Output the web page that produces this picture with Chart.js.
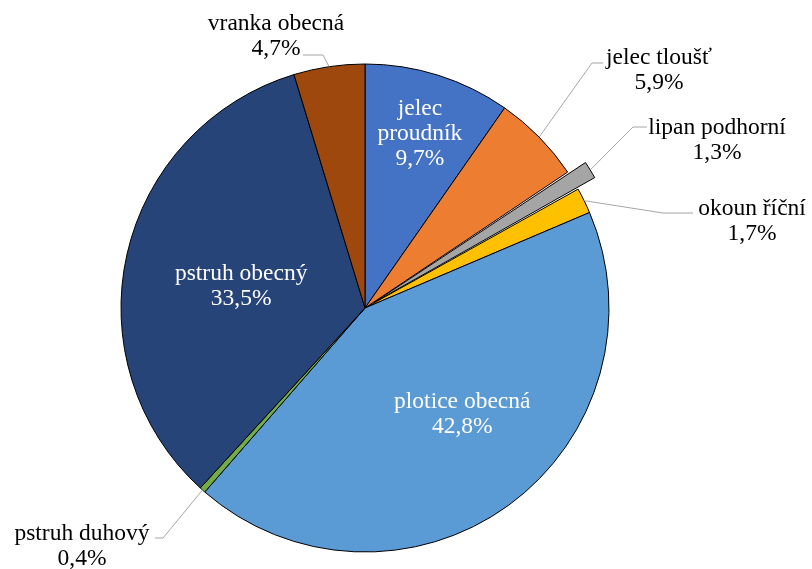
<!DOCTYPE html>
<html>
<head>
<meta charset="utf-8">
<script src="https://cdn.jsdelivr.net/npm/chart.js@4/dist/chart.umd.min.js"></script>
<style>
  html, body { margin: 0; padding: 0; background: #fff; }
  #wrap { width: 812px; height: 569px; position: relative; }
</style>
</head>
<body>
<div id="wrap"><canvas id="pieChart"></canvas></div>
<script>
// Data
const categories = ['jelec proudník', 'jelec tloušť', 'lipan podhorní', 'okoun říční',
    'plotice obecná', 'pstruh duhový', 'pstruh obecný', 'vranka obecná'];
const percents = [9.7, 5.9, 1.3, 1.7, 42.8, 0.4, 33.5, 4.7];
const colors = ['#4472C4', '#ED7D31', '#A5A5A5', '#FFC000', '#5B9BD5', '#70AD47', '#264478', '#9E480E'];
const explode = [0, 0, 42, 0, 0, 0, 0, 0];

// jak se popisky lámou na řádky
const labelLines = [['jelec', 'proudník'], ['jelec tloušť'], ['lipan podhorní'], ['okoun říční'],
    ['plotice obecná'], ['pstruh duhový'], ['pstruh obecný'], ['vranka obecná']];

// umístění popisků: uvnitř (poloměr, natočení) nebo venku s vodící čarou
const labelLayout = [
    { inside: true, r: 0.75, da: 0 },
    { tx: 659, ty: 58, path: [[592, 63], [603, 63]] },
    { tx: 717, ty: 128, path: [[633, 127], [647, 127]] },
    { tx: 752, ty: 209, path: [[663, 213], [693, 213]] },
    { inside: true, r: 0.59, da: -6.5 },
    { tx: 82, ty: 534, path: [[163, 538], [155, 538]] },
    { inside: true, r: 0.515, da: -3 },
    { tx: 276, ty: 24, path: [[323, 55], [303, 55]] }
];

const fmt = v => v.toFixed(1).replace('.', ',') + '%';
const lineH = 25;
const labelFont = '23.5px "Liberation Serif", "Times New Roman", serif';

const labelPlugin = {
    id: 'sliceLabels',
    afterDatasetsDraw(chart) {
        const ctx = chart.ctx;
        const arcs = chart.getDatasetMeta(0).data;
        ctx.save();
        ctx.font = labelFont;
        ctx.textAlign = 'center';
        ctx.textBaseline = 'middle';
        arcs.forEach((arc, i) => {
            const p = arc.getProps(['x', 'y', 'startAngle', 'endAngle', 'outerRadius', 'circumference'], true);
            const mid = (p.startAngle + p.endAngle) / 2;
            const lines = labelLines[i].concat(fmt(percents[i]));
            const lay = labelLayout[i];
            if (lay.inside) {
                const a = mid + lay.da * Math.PI / 180;
                const r = p.outerRadius * lay.r;
                const tx = p.x + Math.cos(a) * r;
                const ty = p.y + Math.sin(a) * r;
                ctx.fillStyle = '#fff';
                lines.forEach((t, k) => ctx.fillText(t, tx, ty + (k - (lines.length - 1) / 2) * lineH));
            } else {
                // posun vysunuté výseče (stejně jako ArcElement)
                const off = explode[i] / 4;
                const fix = 1 - Math.sin(Math.min(Math.PI, p.circumference));
                const rr = p.outerRadius + off * fix + off;
                const ex = p.x + Math.cos(mid) * rr;
                const ey = p.y + Math.sin(mid) * rr;
                ctx.strokeStyle = '#A6A6A6';
                ctx.lineWidth = 1;
                ctx.beginPath();
                ctx.moveTo(ex, ey);
                lay.path.forEach(pt => ctx.lineTo(pt[0], pt[1]));
                ctx.stroke();
                ctx.fillStyle = '#000';
                lines.forEach((t, k) => ctx.fillText(t, lay.tx, lay.ty + k * lineH));
            }
        });
        ctx.restore();
    }
};

new Chart(document.getElementById('pieChart'), {
    type: 'pie',
    data: {
        labels: categories,
        datasets: [{
            data: percents,
            backgroundColor: colors,
            borderColor: '#000',
            borderWidth: 1,
            offset: explode
        }]
    },
    options: {
        responsive: true,
        maintainAspectRatio: false,
        animation: false,
        radius: 244,
        layout: { padding: { left: 0, right: 82, top: 47, bottom: 0 } },
        plugins: { legend: { display: false }, tooltip: { enabled: false } }
    },
    plugins: [labelPlugin]
});
</script>
</body>
</html>
